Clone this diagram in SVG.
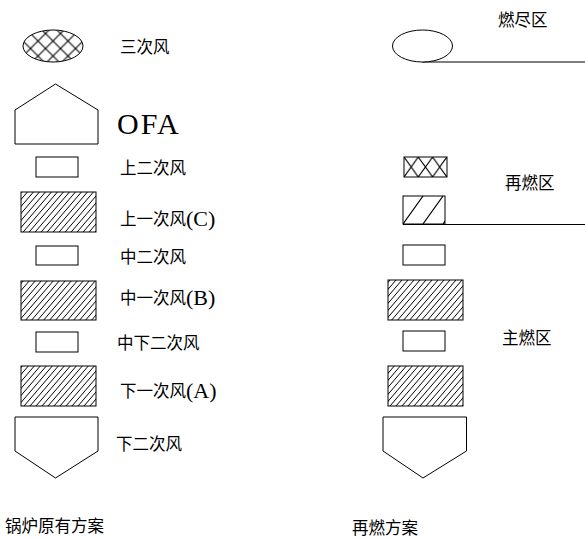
<svg xmlns="http://www.w3.org/2000/svg" width="585" height="539" viewBox="0 0 585 539">
<style>
.s{fill:#fff;stroke:#000;stroke-width:1}
.fh{fill:url(#fine);stroke:#000;stroke-width:1}
.ch{fill:url(#cross);stroke:#000;stroke-width:1}
.cx{fill:url(#cross2);stroke:#000;stroke-width:1}
.co{fill:url(#coarse);stroke:#000;stroke-width:1}
.t{font-family:"Noto Sans CJK SC","Noto Sans CJK JP",sans-serif;font-size:16.5px;fill:#000;dominant-baseline:central}
.r{font-family:"Liberation Serif","Times New Roman",serif;font-size:22px}
.line{stroke:#000;stroke-width:1.2;fill:none}
</style>
<defs>
<pattern id="fine" patternUnits="userSpaceOnUse" width="6" height="7">
<rect width="6" height="7" fill="#fff"/>
<path d="M0,7 L6,0 M-1,1.17 L1,-1.17 M5,8.17 L7,5.83" stroke="#000" stroke-width="1"/>
</pattern>
<pattern id="cross" patternUnits="userSpaceOnUse" width="15" height="15" x="0.5" y="3.5">
<rect width="15" height="15" fill="#fff"/>
<path d="M0,0 L15,15 M0,15 L15,0" stroke="#000" stroke-width="1.1"/>
</pattern>
<pattern id="cross2" patternUnits="userSpaceOnUse" width="14.3" height="20" x="404" y="157">
<rect width="14.3" height="20" fill="#fff"/>
<path d="M0,0 L14.3,20 M0,20 L14.3,0" stroke="#000" stroke-width="1.1"/>
</pattern>
<pattern id="coarse" patternUnits="userSpaceOnUse" width="20" height="28" x="403" y="196">
<rect width="20" height="28" fill="#fff"/>
<path d="M0,28 L20,0 M-20,28 L0,0 M20,28 L40,0" stroke="#000" stroke-width="1.1"/>
</pattern>
</defs>
<rect width="585" height="539" fill="#fff"/>

<g id="connectors">
<line class="line" x1="422" y1="62" x2="585" y2="62"/>
<line class="line" x1="403" y1="224.5" x2="585" y2="224.5"/>
</g>

<g id="left-sanci">
<ellipse class="ch" cx="53" cy="46" rx="30" ry="16"/>
<text class="t" x="120" y="46">三次风</text>
</g>
<g id="left-ofa">
<polygon class="s" points="15,144 15,110 55.5,84 98,110 98,144"/>
<text x="117" y="134" font-family="Liberation Serif, Times New Roman, serif" font-size="30" letter-spacing="2">OFA</text>
</g>
<g id="left-shang2">
<rect class="s" x="36" y="157" width="42" height="20"/>
<text class="t" x="120" y="167">上二次风</text>
</g>
<g id="left-shang1">
<rect class="fh" x="21" y="192" width="75" height="40"/>
<text class="t" x="120" y="218">上一次风<tspan class="r">(C)</tspan></text>
</g>
<g id="left-zhong2">
<rect class="s" x="36" y="246" width="42" height="19"/>
<text class="t" x="120" y="256">中二次风</text>
</g>
<g id="left-zhong1">
<rect class="fh" x="21" y="281" width="75" height="39"/>
<text class="t" x="120" y="297">中一次风<tspan class="r">(B)</tspan></text>
</g>
<g id="left-zhongxia2">
<rect class="s" x="36" y="332" width="42" height="20"/>
<text class="t" x="117" y="342">中下二次风</text>
</g>
<g id="left-xia1">
<rect class="fh" x="21" y="366" width="75" height="40"/>
<text class="t" x="120" y="390">下一次风<tspan class="r">(A)</tspan></text>
</g>
<g id="left-xia2">
<polygon class="s" points="15,417 98,417 98,451 55.5,478 15,451"/>
<text class="t" x="116" y="443">下二次风</text>
</g>
<g id="left-title">
<text class="t" x="5" y="525">锅炉原有方案</text>
</g>

<g id="right-burnout">
<ellipse class="s" cx="422.5" cy="46" rx="30" ry="16"/>
<text class="t" x="498" y="19">燃尽区</text>
</g>
<g id="right-reburn-cross">
<rect class="cx" x="404" y="157" width="43" height="20"/>
</g>
<g id="right-reburn-hatch">
<rect class="co" x="403" y="196" width="42" height="28"/>
<text class="t" x="505" y="182">再燃区</text>
</g>
<g id="right-r1">
<rect class="s" x="403" y="245" width="42" height="20"/>
</g>
<g id="right-r2">
<rect class="fh" x="388" y="280" width="75" height="40"/>
</g>
<g id="right-r3">
<rect class="s" x="403" y="331" width="42" height="20"/>
<text class="t" x="502" y="337">主燃区</text>
</g>
<g id="right-r4">
<rect class="fh" x="388" y="366" width="75" height="40"/>
</g>
<g id="right-r5">
<polygon class="s" points="383,417 466.5,417 466.5,451 423,478 383,451"/>
</g>
<g id="right-title">
<text class="t" x="352" y="527">再燃方案</text>
</g>
</svg>
